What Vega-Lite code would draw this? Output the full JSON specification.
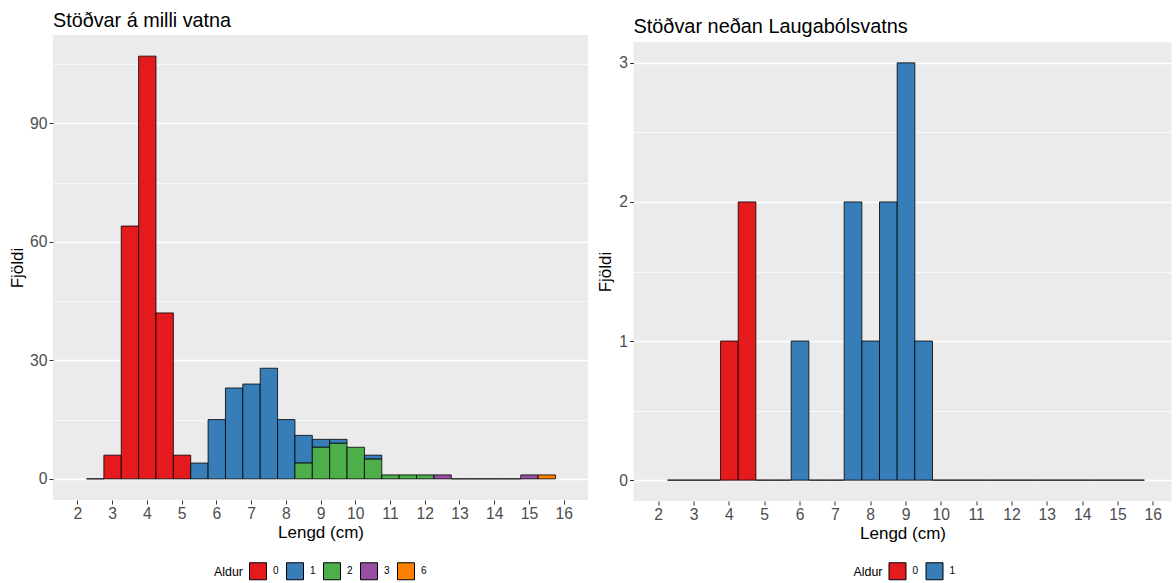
{
  "$schema": "https://vega.github.io/schema/vega-lite/v6.json",
  "autosize": {"type": "none"},
  "padding": {"left": 53, "top": 35, "right": 1123, "bottom": 548},
  "background": "white",
  "config": {
    "font": "Liberation Sans",
    "view": {"fill": "#EBEBEB", "stroke": null},
    "axis": {
      "domain": false,
      "gridColor": "white",
      "tickColor": "#333333",
      "tickSize": 4,
      "tickWidth": 1,
      "labelColor": "#4D4D4D",
      "labelFontSize": 15.7,
      "labelPadding": 2,
      "titleFontSize": 17,
      "titleFontWeight": "normal",
      "titleColor": "black",
      "labelFlush": false,
      "labelOverlap": false
    },
    "legend": {
      "orient": "none",
      "direction": "horizontal",
      "titleOrient": "left",
      "titleFontSize": 12.4,
      "titleFontWeight": "normal",
      "titleColor": "black",
      "titlePadding": 6,
      "labelFontSize": 10,
      "labelColor": "black",
      "labelOffset": 6,
      "columnPadding": 5,
      "padding": 0,
      "symbolType": "square",
      "symbolSize": 289,
      "symbolStrokeColor": "black",
      "symbolStrokeWidth": 1,
      "symbolOpacity": 1
    },
    "title": {"fontWeight": "normal", "color": "black", "frame": "group"}
  },
  "datasets": {
    "milli": [
      {"fra": 2.25, "til": 2.75, "Aldur": "0", "fjoldi": 0},
      {"fra": 2.75, "til": 3.25, "Aldur": "0", "fjoldi": 6},
      {"fra": 3.25, "til": 3.75, "Aldur": "0", "fjoldi": 64},
      {"fra": 3.75, "til": 4.25, "Aldur": "0", "fjoldi": 107},
      {"fra": 4.25, "til": 4.75, "Aldur": "0", "fjoldi": 42},
      {"fra": 4.75, "til": 5.25, "Aldur": "0", "fjoldi": 6},
      {"fra": 5.25, "til": 5.75, "Aldur": "1", "fjoldi": 4},
      {"fra": 5.75, "til": 6.25, "Aldur": "1", "fjoldi": 15},
      {"fra": 6.25, "til": 6.75, "Aldur": "1", "fjoldi": 23},
      {"fra": 6.75, "til": 7.25, "Aldur": "1", "fjoldi": 24},
      {"fra": 7.25, "til": 7.75, "Aldur": "1", "fjoldi": 28},
      {"fra": 7.75, "til": 8.25, "Aldur": "1", "fjoldi": 15},
      {"fra": 8.25, "til": 8.75, "Aldur": "1", "fjoldi": 7},
      {"fra": 8.25, "til": 8.75, "Aldur": "2", "fjoldi": 4},
      {"fra": 8.75, "til": 9.25, "Aldur": "1", "fjoldi": 2},
      {"fra": 8.75, "til": 9.25, "Aldur": "2", "fjoldi": 8},
      {"fra": 9.25, "til": 9.75, "Aldur": "1", "fjoldi": 1},
      {"fra": 9.25, "til": 9.75, "Aldur": "2", "fjoldi": 9},
      {"fra": 9.75, "til": 10.25, "Aldur": "2", "fjoldi": 8},
      {"fra": 10.25, "til": 10.75, "Aldur": "1", "fjoldi": 1},
      {"fra": 10.25, "til": 10.75, "Aldur": "2", "fjoldi": 5},
      {"fra": 10.75, "til": 11.25, "Aldur": "2", "fjoldi": 1},
      {"fra": 11.25, "til": 11.75, "Aldur": "2", "fjoldi": 1},
      {"fra": 11.75, "til": 12.25, "Aldur": "2", "fjoldi": 1},
      {"fra": 12.25, "til": 12.75, "Aldur": "3", "fjoldi": 1},
      {"fra": 12.75, "til": 13.25, "Aldur": "3", "fjoldi": 0},
      {"fra": 13.25, "til": 13.75, "Aldur": "3", "fjoldi": 0},
      {"fra": 13.75, "til": 14.25, "Aldur": "3", "fjoldi": 0},
      {"fra": 14.25, "til": 14.75, "Aldur": "3", "fjoldi": 0},
      {"fra": 14.75, "til": 15.25, "Aldur": "3", "fjoldi": 1},
      {"fra": 15.25, "til": 15.75, "Aldur": "6", "fjoldi": 1}
    ],
    "nedan": [
      {"fra": 2.25, "til": 2.75, "Aldur": "0", "fjoldi": 0},
      {"fra": 2.75, "til": 3.25, "Aldur": "0", "fjoldi": 0},
      {"fra": 3.25, "til": 3.75, "Aldur": "0", "fjoldi": 0},
      {"fra": 3.75, "til": 4.25, "Aldur": "0", "fjoldi": 1},
      {"fra": 4.25, "til": 4.75, "Aldur": "0", "fjoldi": 2},
      {"fra": 4.75, "til": 5.25, "Aldur": "1", "fjoldi": 0},
      {"fra": 5.25, "til": 5.75, "Aldur": "1", "fjoldi": 0},
      {"fra": 5.75, "til": 6.25, "Aldur": "1", "fjoldi": 1},
      {"fra": 6.25, "til": 6.75, "Aldur": "1", "fjoldi": 0},
      {"fra": 6.75, "til": 7.25, "Aldur": "1", "fjoldi": 0},
      {"fra": 7.25, "til": 7.75, "Aldur": "1", "fjoldi": 2},
      {"fra": 7.75, "til": 8.25, "Aldur": "1", "fjoldi": 1},
      {"fra": 8.25, "til": 8.75, "Aldur": "1", "fjoldi": 2},
      {"fra": 8.75, "til": 9.25, "Aldur": "1", "fjoldi": 3},
      {"fra": 9.25, "til": 9.75, "Aldur": "1", "fjoldi": 1},
      {"fra": 9.75, "til": 10.25, "Aldur": "1", "fjoldi": 0},
      {"fra": 10.25, "til": 10.75, "Aldur": "1", "fjoldi": 0},
      {"fra": 10.75, "til": 11.25, "Aldur": "1", "fjoldi": 0},
      {"fra": 11.25, "til": 11.75, "Aldur": "1", "fjoldi": 0},
      {"fra": 11.75, "til": 12.25, "Aldur": "1", "fjoldi": 0},
      {"fra": 12.25, "til": 12.75, "Aldur": "1", "fjoldi": 0},
      {"fra": 12.75, "til": 13.25, "Aldur": "1", "fjoldi": 0},
      {"fra": 13.25, "til": 13.75, "Aldur": "1", "fjoldi": 0},
      {"fra": 13.75, "til": 14.25, "Aldur": "1", "fjoldi": 0},
      {"fra": 14.25, "til": 14.75, "Aldur": "1", "fjoldi": 0},
      {"fra": 14.75, "til": 15.25, "Aldur": "1", "fjoldi": 0},
      {"fra": 15.25, "til": 15.75, "Aldur": "1", "fjoldi": 0}
    ]
  },
  "bounds": "flush",
  "spacing": 45.5,
  "resolve": {
    "scale": {"x": "independent", "y": "independent", "color": "independent"},
    "axis": {"x": "independent", "y": "independent"},
    "legend": {"color": "independent"}
  },
  "hconcat": [
    {
      "width": 535,
      "height": 465,
      "data": {"name": "milli"},
      "title": {
        "text": "Stöðvar á milli vatna",
        "anchor": "start",
        "baseline": "alphabetic",
        "offset": -12,
        "fontSize": 19.8
      },
      "mark": {"type": "bar", "stroke": "black", "strokeWidth": 0.8, "binSpacing": 0, "opacity": 1},
      "encoding": {
        "x": {
          "field": "fra",
          "type": "quantitative",
          "bin": {"binned": true},
          "scale": {"domain": [1.3, 16.7], "nice": false, "zero": false},
          "axis": {
            "title": "Lengd (cm)",
            "values": [1.5, 2, 2.5, 3, 3.5, 4, 4.5, 5, 5.5, 6, 6.5, 7, 7.5, 8, 8.5, 9, 9.5, 10, 10.5, 11, 11.5, 12, 12.5, 13, 13.5, 14, 14.5, 15, 15.5, 16, 16.5],
            "labelExpr": "datum.value % 1 === 0 ? '' + datum.value : ''",
            "gridWidth": {"condition": {"test": "datum.value % 1 === 0", "value": 1.4}, "value": 0.7},
            "tickOpacity": {"condition": {"test": "datum.value % 1 === 0", "value": 1}, "value": 0},
            "titlePadding": 4
          }
        },
        "x2": {"field": "til"},
        "y": {
          "field": "fjoldi",
          "type": "quantitative",
          "stack": "zero",
          "scale": {"domain": [-5.35, 112.35], "nice": false, "zero": false},
          "axis": {
            "title": "Fjöldi",
            "values": [0, 15, 30, 45, 60, 75, 90, 105],
            "labelExpr": "datum.value % 30 === 0 ? '' + datum.value : ''",
            "gridWidth": {"condition": {"test": "datum.value % 30 === 0", "value": 1.4}, "value": 0.7},
            "tickOpacity": {"condition": {"test": "datum.value % 30 === 0", "value": 1}, "value": 0},
            "titlePadding": 3
          }
        },
        "color": {
          "field": "Aldur",
          "type": "nominal",
          "scale": {"domain": ["0", "1", "2", "3", "6"], "range": ["#E41A1C", "#377EB8", "#4DAF4A", "#984EA3", "#FF7F00"]},
          "legend": {"title": "Aldur", "legendX": 161, "legendY": 527}
        },
        "order": {"field": "Aldur", "sort": "descending"}
      }
    },
    {
      "bounds": "flush",
      "spacing": 0,
      "resolve": {"scale": {"color": "independent"}, "legend": {"color": "independent"}},
      "vconcat": [
        {
          "width": 538,
          "height": 7,
          "data": {"values": [{}]},
          "mark": {"type": "point", "opacity": 0},
          "encoding": {},
          "view": {"fill": null, "stroke": null}
        },
        {
          "width": 538,
          "height": 459,
          "data": {"name": "nedan"},
          "title": {
            "text": "Stöðvar neðan Laugabólsvatns",
            "anchor": "start",
            "baseline": "alphabetic",
            "offset": -11,
            "fontSize": 19.9
          },
          "mark": {"type": "bar", "stroke": "black", "strokeWidth": 0.8, "binSpacing": 0, "opacity": 1},
          "encoding": {
            "x": {
              "field": "fra",
              "type": "quantitative",
              "bin": {"binned": true},
              "scale": {"domain": [1.3, 16.53], "nice": false, "zero": false},
              "axis": {
                "title": "Lengd (cm)",
                "values": [1.5, 2, 2.5, 3, 3.5, 4, 4.5, 5, 5.5, 6, 6.5, 7, 7.5, 8, 8.5, 9, 9.5, 10, 10.5, 11, 11.5, 12, 12.5, 13, 13.5, 14, 14.5, 15, 15.5, 16, 16.5],
                "labelExpr": "datum.value % 1 === 0 ? '' + datum.value : ''",
                "gridWidth": {"condition": {"test": "datum.value % 1 === 0", "value": 1.4}, "value": 0.7},
                "tickOpacity": {"condition": {"test": "datum.value % 1 === 0", "value": 1}, "value": 0},
                "titlePadding": 4
              }
            },
            "x2": {"field": "til"},
            "y": {
              "field": "fjoldi",
              "type": "quantitative",
              "stack": "zero",
              "scale": {"domain": [-0.15, 3.15], "nice": false, "zero": false},
              "axis": {
                "title": "Fjöldi",
                "values": [0, 0.5, 1, 1.5, 2, 2.5, 3],
                "labelExpr": "datum.value % 1 === 0 ? '' + datum.value : ''",
                "gridWidth": {"condition": {"test": "datum.value % 1 === 0", "value": 1.4}, "value": 0.7},
                "tickOpacity": {"condition": {"test": "datum.value % 1 === 0", "value": 1}, "value": 0},
                "titlePadding": 4
              }
            },
            "color": {
              "field": "Aldur",
              "type": "nominal",
              "scale": {"domain": ["0", "1"], "range": ["#E41A1C", "#377EB8"]},
              "legend": {"title": "Aldur", "legendX": 220, "legendY": 520}
            },
            "order": {"field": "Aldur", "sort": "descending"}
          }
        }
      ]
    }
  ]
}
